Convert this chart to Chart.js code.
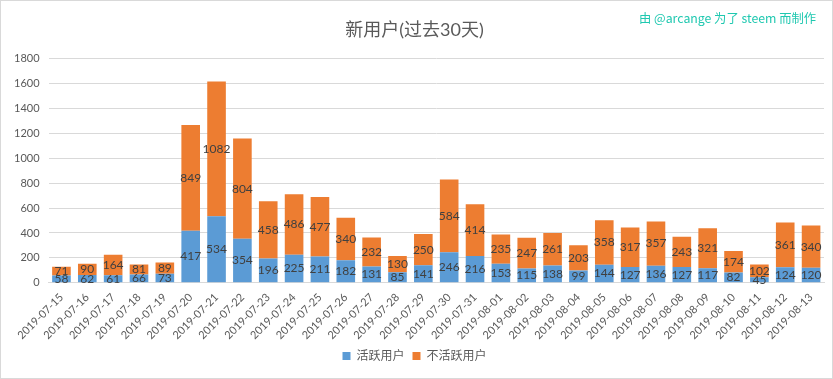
<!DOCTYPE html>
<html><head><meta charset="utf-8">
<script src="https://cdn.jsdelivr.net/npm/chart.js@4/dist/chart.umd.min.js"></script>
<style>
html,body{margin:0;padding:0;background:#fff;}
#wrap{position:relative;width:831px;height:377px;border:1px solid #d9d9d9;}
#note{position:absolute;left:638px;top:8px;font-family:"Noto Sans CJK SC",Lato,sans-serif;font-size:12.3px;color:#1fc8b0;white-space:nowrap;}
</style></head>
<body>
<div id="wrap"><canvas id="c" width="831" height="377"></canvas><div id="note">由 @arcange 为了 steem 而制作</div></div>
<script>
const categories = ["2019-07-15","2019-07-16","2019-07-17","2019-07-18","2019-07-19","2019-07-20","2019-07-21","2019-07-22","2019-07-23","2019-07-24","2019-07-25","2019-07-26","2019-07-27","2019-07-28","2019-07-29","2019-07-30","2019-07-31","2019-08-01","2019-08-02","2019-08-03","2019-08-04","2019-08-05","2019-08-06","2019-08-07","2019-08-08","2019-08-09","2019-08-10","2019-08-11","2019-08-12","2019-08-13"];
const activeUsers = [58,62,61,66,73,417,534,354,196,225,211,182,131,85,141,246,216,153,115,138,99,144,127,136,127,117,82,45,124,120];
const inactiveUsers = [71,90,164,81,89,849,1082,804,458,486,477,340,232,130,250,584,414,235,247,261,203,358,317,357,243,321,174,102,361,340];
const seriesNames = ["活跃用户","不活跃用户"];
const titleText = "新用户(过去30天)";

const FONT = 'Lato, "Noto Sans CJK SC", sans-serif';

const labelPlugin = {
  id: 'segLabels',
  afterDatasetsDraw(chart) {
    const ctx = chart.ctx;
    ctx.save();
    ctx.font = '12px ' + FONT;
    ctx.fillStyle = '#404040';
    ctx.textAlign = 'center';
    ctx.textBaseline = 'middle';
    chart.data.datasets.forEach((ds, di) => {
      const meta = chart.getDatasetMeta(di);
      meta.data.forEach((bar, i) => {
        const p = bar.getProps(['x','y','base'], true);
        ctx.fillText(String(ds.data[i]), p.x, (p.y + p.base) / 2);
      });
    });
    ctx.restore();
  }
};

new Chart(document.getElementById('c'), {
  type: 'bar',
  data: {
    labels: categories,
    datasets: [
      {label: seriesNames[0], data: activeUsers, backgroundColor: '#5b9bd5'},
      {label: seriesNames[1], data: inactiveUsers, backgroundColor: '#ed7d31'}
    ]
  },
  options: {
    responsive: false,
    animation: false,
    layout: {padding: {left: 4, right: 8, top: 0, bottom: 6}},
    datasets: {bar: {categoryPercentage: 1.0, barPercentage: 0.72}},
    scales: {
      x: {
        stacked: true,
        grid: {display: false},
        border: {color: '#d9d9d9'},
        ticks: {color: '#595959', font: {family: FONT, size: 11}, maxRotation: 45, minRotation: 45, autoSkip: false, padding: 0}
      },
      y: {
        stacked: true,
        min: 0, max: 1800,
        grid: {color: '#d9d9d9', drawTicks: false},
        border: {display: false},
        ticks: {stepSize: 200, color: '#595959', font: {family: FONT, size: 11}, padding: 9, callback: v => String(v)}
      }
    },
    plugins: {
      title: {display: true, text: titleText, color: '#595959', font: {family: FONT, size: 18, weight: 'normal'}, padding: {top: 18, bottom: 18}},
      legend: {position: 'bottom', labels: {color: '#595959', font: {family: FONT, size: 12}, boxWidth: 8, boxHeight: 8, padding: 8}},
      tooltip: {enabled: false}
    }
  },
  plugins: [labelPlugin]
});
</script>
</body></html>
